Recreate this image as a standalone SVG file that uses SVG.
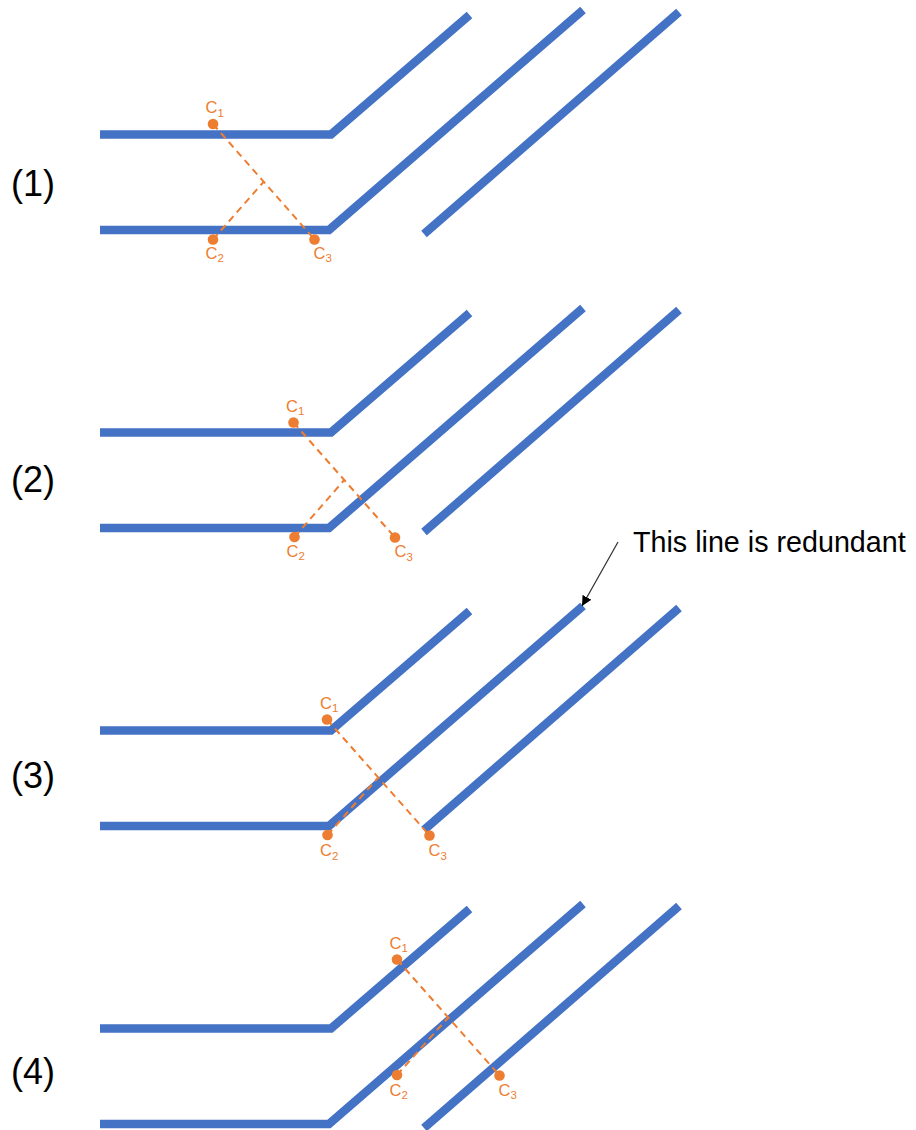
<svg xmlns="http://www.w3.org/2000/svg" width="916" height="1130" viewBox="0 0 916 1130">
  <style>
    .wire { fill: none; stroke: #4472C4; stroke-width: 8.5; stroke-linejoin: miter; stroke-linecap: butt; }
    .dash { fill: none; stroke: #ED7D31; stroke-width: 2; stroke-dasharray: 7 5; }
    .pt { fill: #ED7D31; }
    .lbl { font-family: "Liberation Sans", Arial, sans-serif; font-size: 16.5px; fill: #ED7D31; }
    .sub { font-size: 11.5px; }
    .num { font-family: "Liberation Sans", Arial, sans-serif; font-size: 36px; fill: #000; }
    .note { font-family: "Liberation Sans", Arial, sans-serif; font-size: 28.7px; fill: #000; }
    .arrow { fill: none; stroke: #333; stroke-width: 1.2; }
  </style>
  <defs>
    <!-- one set of three traces, repeated for every step -->
    <g id="traces">
      <path class="wire" d="M100,134.5 H331 L469.5,15"/>
      <path class="wire" d="M100,230 H329 L583,10"/>
      <path class="wire" d="M424,234 L679,12"/>
    </g>
    <marker id="head" viewBox="0 0 10 10" refX="10" refY="5" markerWidth="10" markerHeight="10" markerUnits="userSpaceOnUse" orient="auto">
      <path d="M0,0 L10,5 L0,10 Z" fill="#000"/>
    </marker>
  </defs>

  <rect width="916" height="1130" fill="#fff"/>

  <!-- step 1 -->
  <g id="step-1">
    <use href="#traces"/>
    <text class="num" x="11" y="196">(1)</text>
    <g id="step-1-connectors">
      <path class="dash" d="M213,124 L314.5,239.5"/>
      <path class="dash" d="M213,239.5 L263.75,181.75"/>
    </g>
    <g id="step-1-c1"><circle class="pt" cx="213" cy="124" r="5.3"/><text class="lbl" x="205.5" y="113">C<tspan class="sub" dy="3.5">1</tspan></text></g>
    <g id="step-1-c2"><circle class="pt" cx="213" cy="239.5" r="5.3"/><text class="lbl" x="205.5" y="258.5">C<tspan class="sub" dy="3.5">2</tspan></text></g>
    <g id="step-1-c3"><circle class="pt" cx="314.5" cy="239.5" r="5.3"/><text class="lbl" x="313.5" y="258.5">C<tspan class="sub" dy="3.5">3</tspan></text></g>
  </g>

  <!-- step 2 -->
  <g id="step-2">
    <use href="#traces" transform="translate(0,298)"/>
    <text class="num" x="11" y="492">(2)</text>
    <g id="step-2-connectors">
      <path class="dash" d="M293.5,422.5 L395,537.5"/>
      <path class="dash" d="M294.5,537 L344.25,480"/>
    </g>
    <g id="step-2-c1"><circle class="pt" cx="293.5" cy="422.5" r="5.3"/><text class="lbl" x="286" y="411.5">C<tspan class="sub" dy="3.5">1</tspan></text></g>
    <g id="step-2-c2"><circle class="pt" cx="294.5" cy="537" r="5.3"/><text class="lbl" x="286.5" y="556.5">C<tspan class="sub" dy="3.5">2</tspan></text></g>
    <g id="step-2-c3"><circle class="pt" cx="395" cy="537.5" r="5.3"/><text class="lbl" x="394.5" y="557">C<tspan class="sub" dy="3.5">3</tspan></text></g>
  </g>

  <!-- step 3 -->
  <g id="step-3">
    <use href="#traces" transform="translate(0,596)"/>
    <text class="num" x="11" y="788">(3)</text>
    <g id="step-3-connectors">
      <path class="dash" d="M327,719.5 L429.5,835.5"/>
      <path class="dash" d="M327.5,835 L378.25,777.5"/>
    </g>
    <g id="step-3-c1"><circle class="pt" cx="327" cy="719.5" r="5.3"/><text class="lbl" x="320" y="708.5">C<tspan class="sub" dy="3.5">1</tspan></text></g>
    <g id="step-3-c2"><circle class="pt" cx="327.5" cy="835" r="5.3"/><text class="lbl" x="320" y="856">C<tspan class="sub" dy="3.5">2</tspan></text></g>
    <g id="step-3-c3"><circle class="pt" cx="429.5" cy="835.5" r="5.3"/><text class="lbl" x="428.5" y="856">C<tspan class="sub" dy="3.5">3</tspan></text></g>
  </g>

  <!-- step 4 -->
  <g id="step-4">
    <use href="#traces" transform="translate(0,894)"/>
    <text class="num" x="11" y="1084">(4)</text>
    <g id="step-4-connectors">
      <path class="dash" d="M397,959.5 L499.5,1075.5"/>
      <path class="dash" d="M397,1075 L448.25,1017.5"/>
    </g>
    <g id="step-4-c1"><circle class="pt" cx="397" cy="959.5" r="5.3"/><text class="lbl" x="389.5" y="948.5">C<tspan class="sub" dy="3.5">1</tspan></text></g>
    <g id="step-4-c2"><circle class="pt" cx="397" cy="1075" r="5.3"/><text class="lbl" x="389.5" y="1095.5">C<tspan class="sub" dy="3.5">2</tspan></text></g>
    <g id="step-4-c3"><circle class="pt" cx="499.5" cy="1075.5" r="5.3"/><text class="lbl" x="498.5" y="1095.5">C<tspan class="sub" dy="3.5">3</tspan></text></g>
  </g>

  <!-- callout on the middle trace of step 3 -->
  <g id="callout">
    <path class="arrow" d="M618,542 L582,606" marker-end="url(#head)"/>
    <text class="note" x="633" y="552">This line is redundant</text>
  </g>
</svg>
